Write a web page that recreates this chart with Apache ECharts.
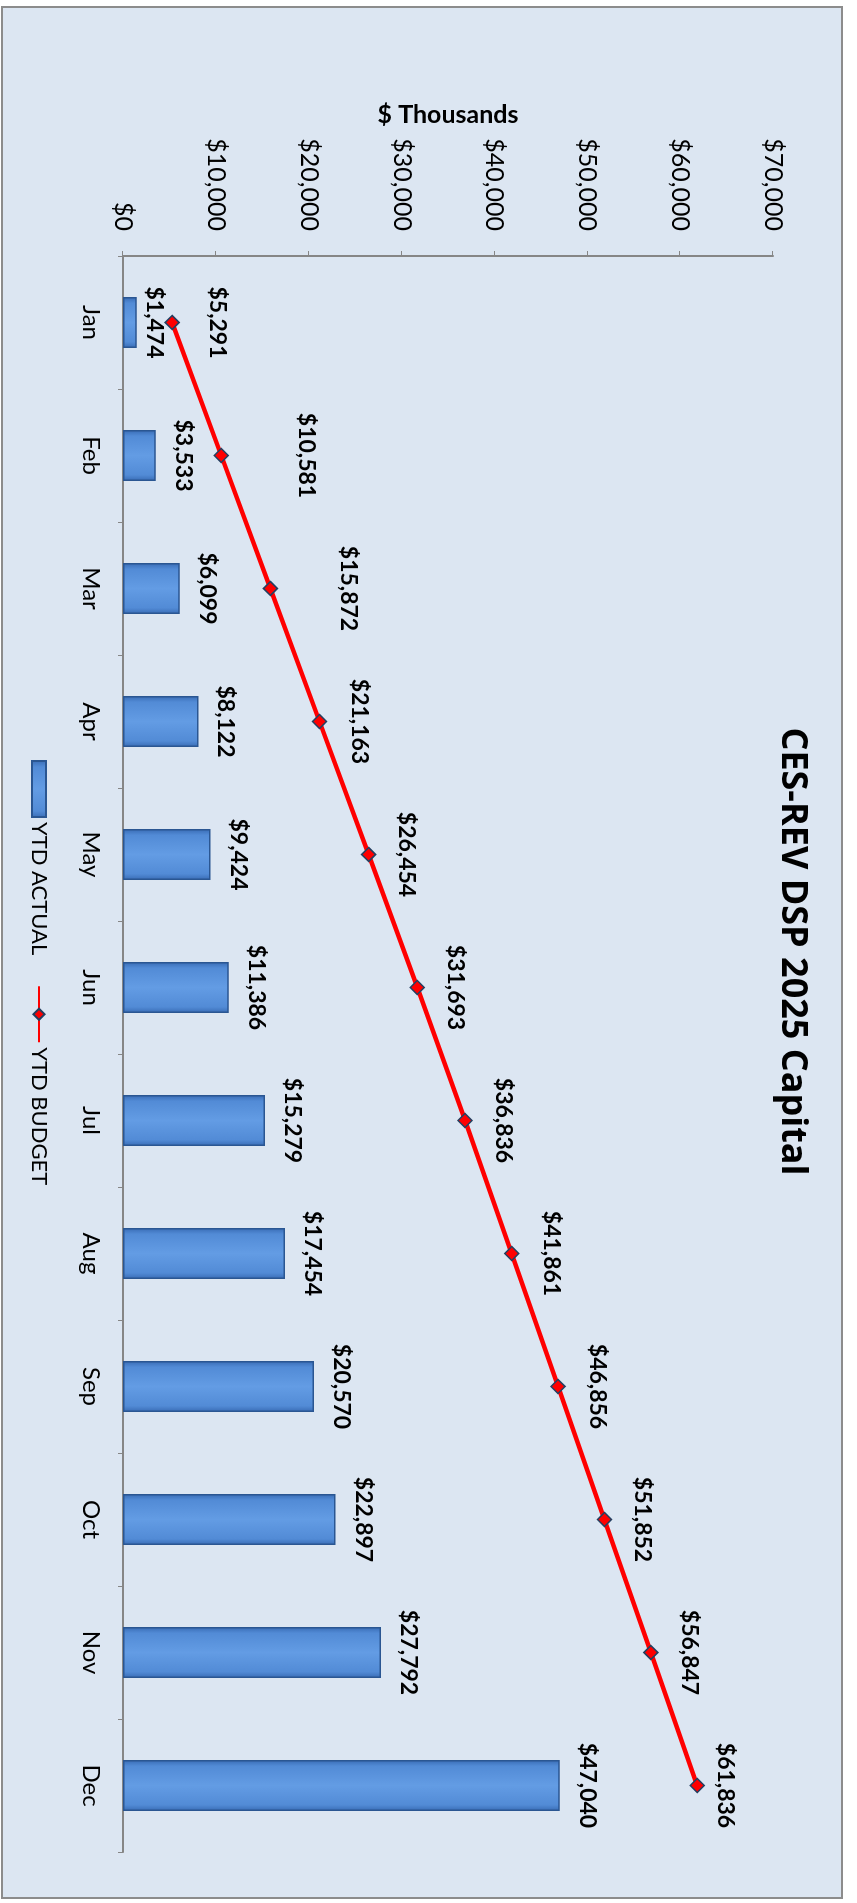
<!DOCTYPE html>
<html>
<head>
<meta charset="utf-8">
<script src="https://cdn.jsdelivr.net/npm/echarts@6/dist/echarts.min.js"></script>
<style>
  html, body { margin: 0; padding: 0; background: #fff; }
  body { width: 857px; height: 1903px; overflow: hidden; position: relative; }
  /* chart is laid out landscape, then turned a quarter turn clockwise */
  #chart {
    position: absolute; left: 0; top: 0;
    width: 1903px; height: 857px;
    transform-origin: 0 0;
    transform: translate(857px, 0) rotate(90deg);
  }
</style>
</head>
<body>
<div id="chart"></div>
<script>
var months = ['Jan', 'Feb', 'Mar', 'Apr', 'May', 'Jun', 'Jul', 'Aug', 'Sep', 'Oct', 'Nov', 'Dec'];
var ytdActual = [1474, 3533, 6099, 8122, 9424, 11386, 15279, 17454, 20570, 22897, 27792, 47040];
var ytdBudget = [5291, 10581, 15872, 21163, 26454, 31693, 36836, 41861, 46856, 51852, 56847, 61836];
var axisMin = 0, axisMax = 70000, axisStep = 10000;

// label offsets, the excel file had a few labels dragged around by hand
var budgetLabelGap = [26, 66, 59, 21, 19, 19, 19, 20, 20, 19, 19, 9];
var actualLabelGap = [6, 16, 16, 16, 16, 16, 16, 16, 16, 16, 16, 16];

var FONT = 'Lato';
function money(v) {
    return '$' + Number(v).toLocaleString('en-US');
}

var barFill = new echarts.graphic.LinearGradient(0, 0, 1, 0, [
    { offset: 0, color: '#386bb4' },
    { offset: 0.12, color: '#528bd6' },
    { offset: 0.5, color: '#639ce4' },
    { offset: 0.88, color: '#528bd6' },
    { offset: 1, color: '#386bb4' }
]);

var option = {
    backgroundColor: 'transparent',
    textStyle: { fontFamily: FONT },
    graphic: [{
        type: 'rect',
        z: -10,
        silent: true,
        shape: { x: 7, y: 15, width: 1891, height: 840 },
        style: { fill: '#dce6f2', stroke: '#8c8c8c', lineWidth: 2 }
    }],
    title: {
        text: 'CES-REV DSP 2025 Capital',
        left: 'center',
        top: 42,
        textStyle: { fontFamily: 'Open Sans', fontSize: 36, fontWeight: 'bold', color: '#000' }
    },
    legend: {
        left: 755,
        top: 802,
        itemWidth: 56,
        itemHeight: 14,
        itemGap: 30,
        textStyle: { fontFamily: FONT, fontSize: 22, color: '#000' },
        data: [{ name: 'YTD ACTUAL', icon: 'rect' }, { name: 'YTD BUDGET' }]
    },
    grid: { left: 256, right: 51, top: 84, bottom: 123 },
    xAxis: {
        type: 'category',
        data: months,
        axisLine: { lineStyle: { color: '#868686', width: 2 } },
        axisTick: { show: true, length: 5, lineStyle: { color: '#868686' } },
        axisLabel: { fontFamily: FONT, fontSize: 24, color: '#000', margin: 20 }
    },
    yAxis: {
        type: 'value',
        min: axisMin,
        max: axisMax,
        interval: axisStep,
        name: '$ Thousands',
        nameLocation: 'middle',
        nameGap: 128,
        nameTextStyle: { fontFamily: FONT, fontSize: 25, fontWeight: 'bold', color: '#000' },
        splitLine: { show: false },
        axisLine: { show: true, lineStyle: { color: '#868686', width: 2 } },
        axisTick: { show: true, length: 5, lineStyle: { color: '#868686' } },
        axisLabel: {
            fontFamily: FONT, fontSize: 25, color: '#000', margin: 25,
            formatter: money
        }
    },
    series: [{
        name: 'YTD ACTUAL',
        type: 'bar',
        barWidth: 51,
        itemStyle: { color: barFill, borderColor: '#2a5692', borderWidth: 1.5 },
        data: ytdActual.map(function (v, i) {
            return { value: v, label: { distance: actualLabelGap[i] } };
        }),
        label: {
            show: true,
            position: 'top',
            fontFamily: FONT, fontSize: 23, fontWeight: 'bold', color: '#000',
            formatter: function (p) { return money(p.value); }
        }
    }, {
        name: 'YTD BUDGET',
        type: 'line',
        symbol: 'diamond',
        symbolSize: 14,
        lineStyle: { color: '#ff0000', width: 4.5 },
        itemStyle: { color: '#ff0000', borderColor: '#243f60', borderWidth: 1.5 },
        data: ytdBudget.map(function (v, i) {
            return { value: v, label: { distance: budgetLabelGap[i] } };
        }),
        label: {
            show: true,
            position: 'top',
            fontFamily: FONT, fontSize: 23, fontWeight: 'bold', color: '#000',
            formatter: function (p) { return money(p.value); }
        }
    }]
};

var myChart = echarts.init(document.getElementById('chart'), null, { width: 1903, height: 857 });
myChart.setOption(option, true);
</script>
</body>
</html>
